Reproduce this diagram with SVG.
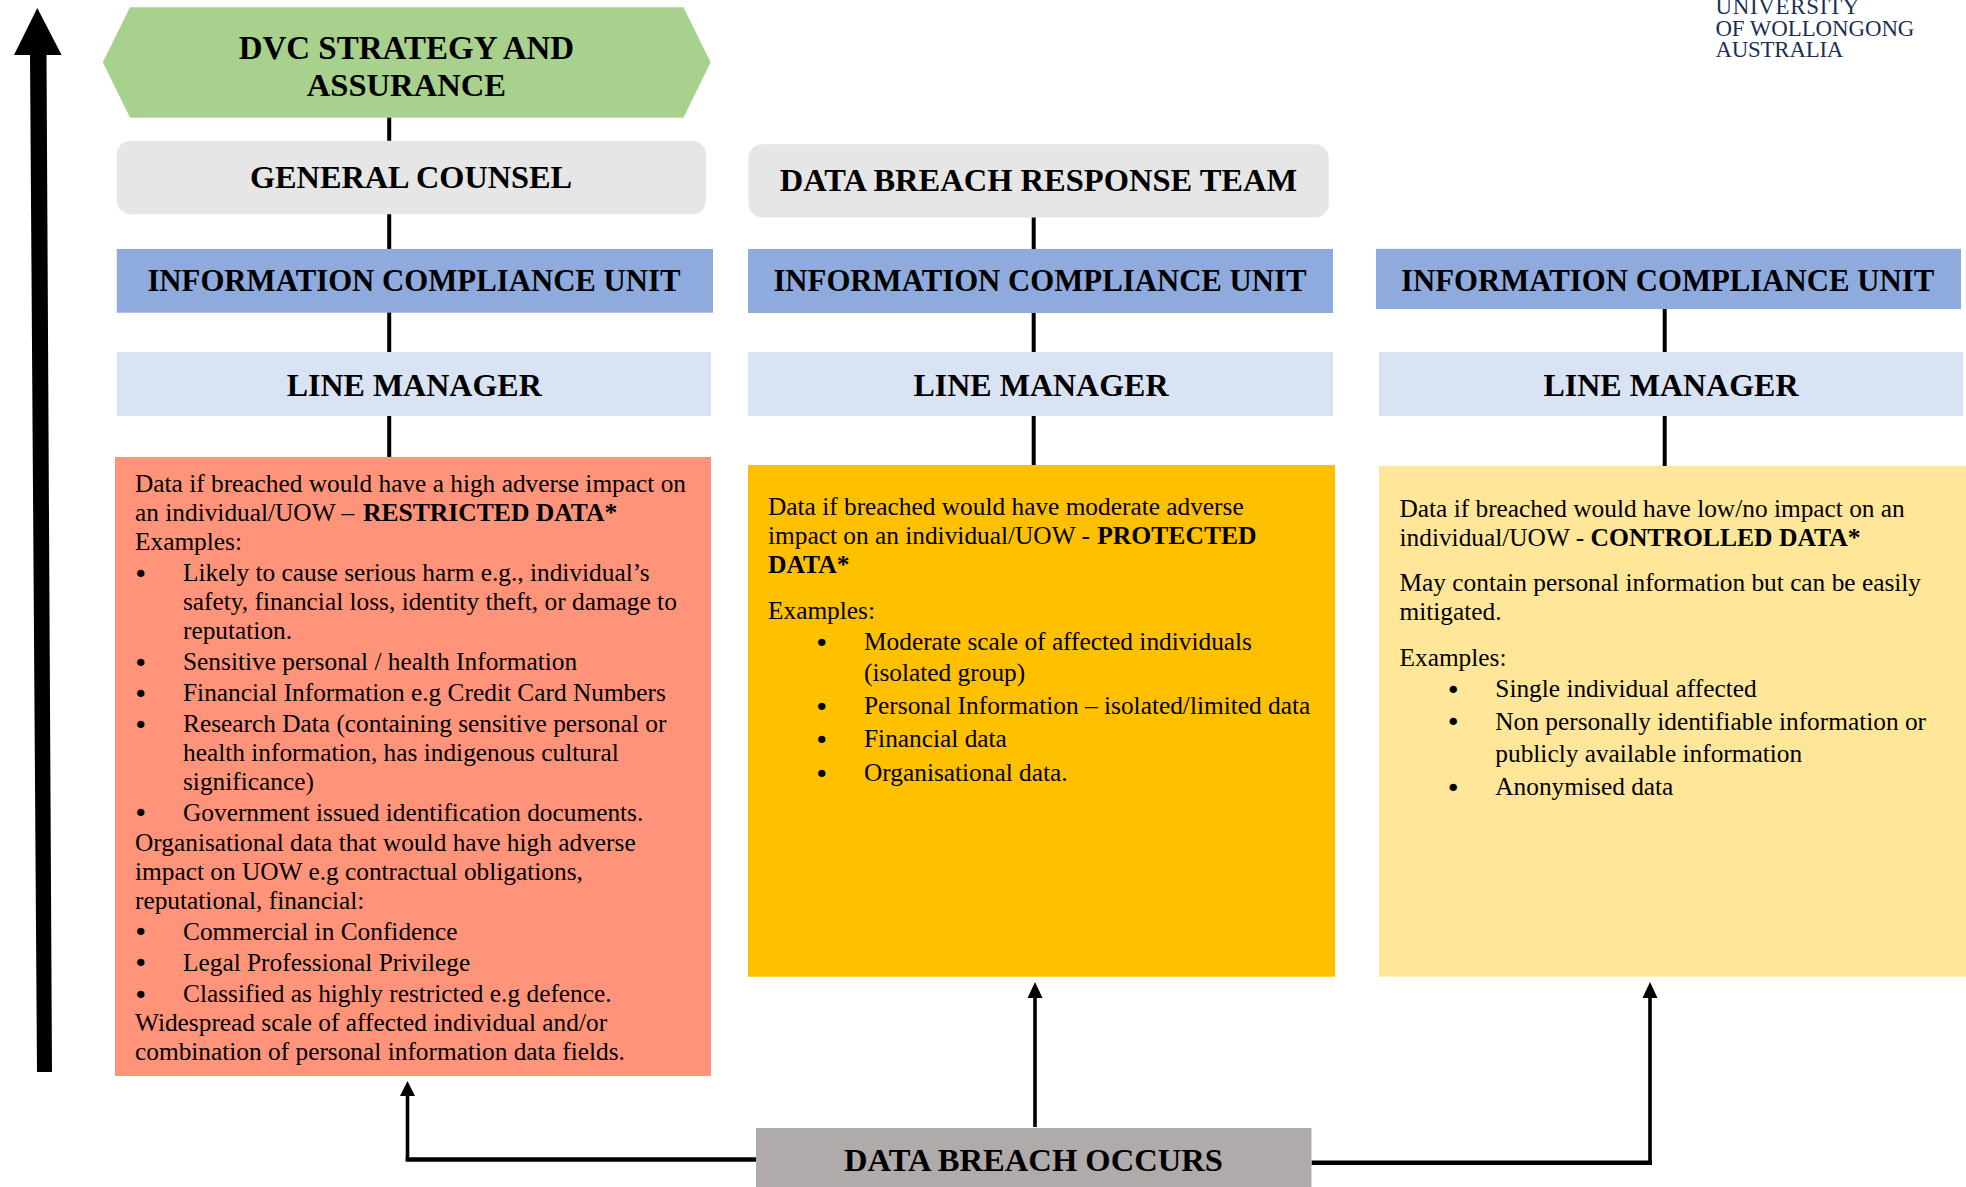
<svg xmlns="http://www.w3.org/2000/svg" width="1966" height="1187" viewBox="0 0 1966 1187">
<style>
text{font-family:"Liberation Serif","Times New Roman",serif;fill:#000}
.h{font-weight:700;font-size:32px}
.b{font-size:25.35px}
text.d{font-family:"DejaVu Sans",sans-serif;font-size:25.3px}
.bb{font-weight:700;font-size:25.6px}
.logo{font-size:22.9px;fill:#1b2f55}
.wire{fill:none;stroke:#000;stroke-width:4}
.thick{fill:none;stroke:#000;stroke-width:4.4}
.thin{fill:none;stroke:#000;stroke-width:3.6}
</style>
<rect width="1966" height="1187" fill="#fff"/>
<g id="connectors">
<path d="M389.2 117V141M389.2 214V249M389.2 312V352M389.2 416V457" class="wire"/>
<path d="M1033.7 217V249M1033.7 313V352M1033.7 416V465" class="wire"/>
<path d="M1664.7 309V352M1664.7 416V466" class="wire"/>
<path d="M407.5 1161V1095" class="thin"/>
<path d="M756 1159.5H405.7" class="thick"/>
<path d="M400 1096L407.5 1081L415 1096Z" fill="#000"/>
<path d="M1035 1127V998" class="thin"/>
<path d="M1027.5 998L1035 982L1042.5 998Z" fill="#000"/>
<path d="M1311.5 1162.8H1651.8" class="thick"/>
<path d="M1650 1165V998" class="thin"/>
<path d="M1642.5 998L1650 982L1657.5 998Z" fill="#000"/>
<path id="escalation" d="M14 55L37.3 8L61.6 55H46.5L52 1072H37L30 55Z" fill="#000"/>
</g>
<g id="dvc"><path d="M130 7.3H683.5L710.6 62.3L683.5 117.7H130L102.8 62.3Z" fill="#A9D18E"/>
<text class="h" style="font-size:33px" x="406.4" y="58.7" text-anchor="middle">DVC STRATEGY AND</text><text class="h" style="font-size:32.6px" x="406.4" y="95.7" text-anchor="middle">ASSURANCE</text></g>
<g id="general-counsel"><rect x="116.8" y="140.7" width="589.2" height="73.6" rx="14" fill="#E6E6E6"/><text class="h" style="font-size:32.3px" x="411" y="188" text-anchor="middle">GENERAL COUNSEL</text></g>
<g id="response-team"><rect x="748.4" y="144.3" width="580.4" height="73.2" rx="14" fill="#E6E6E6"/><text class="h" style="font-size:32.5px" x="1038.5" y="190.7" text-anchor="middle">DATA BREACH RESPONSE TEAM</text></g>
<g id="icu-1"><rect x="116.8" y="249" width="596.2" height="63.7" fill="#8FAADC"/><text class="h" style="font-size:30.8px" x="414" y="291" text-anchor="middle">INFORMATION COMPLIANCE UNIT</text></g>
<g id="icu-2"><rect x="748" y="249" width="585" height="64" fill="#8FAADC"/><text class="h" style="font-size:30.8px" x="1040" y="291" text-anchor="middle">INFORMATION COMPLIANCE UNIT</text></g>
<g id="icu-3"><rect x="1376" y="248.8" width="585" height="60.2" fill="#8FAADC"/><text class="h" style="font-size:30.8px" x="1667.7" y="291" text-anchor="middle">INFORMATION COMPLIANCE UNIT</text></g>
<g id="lm-1"><rect x="116.8" y="352" width="594.2" height="64" fill="#DAE3F3"/><text class="h" x="414.2" y="396" text-anchor="middle">LINE MANAGER</text></g>
<g id="lm-2"><rect x="748" y="352" width="585" height="64" fill="#DAE3F3"/><text class="h" x="1041" y="396" text-anchor="middle">LINE MANAGER</text></g>
<g id="lm-3"><rect x="1379" y="352" width="584" height="64" fill="#DAE3F3"/><text class="h" x="1671" y="396" text-anchor="middle">LINE MANAGER</text></g>
<g id="restricted"><rect x="115" y="457" width="596" height="619" fill="#FF947B"/>
<text class="b" x="135" y="492">Data if breached would have a high adverse impact on</text>
<text class="b" x="135" y="521">an individual/UOW – <tspan class="bb" dx="2.5">RESTRICTED DATA*</tspan></text>
<text class="b" x="135" y="550">Examples:</text>
<text class="d" x="133.3" y="582.9">•</text><text class="b" x="183" y="581.4">Likely to cause serious harm e.g., individual’s</text>
<text class="b" x="183" y="610">safety, financial loss, identity theft, or damage to</text>
<text class="b" x="183" y="639">reputation.</text>
<text class="d" x="133.3" y="671.9">•</text><text class="b" x="183" y="670.4">Sensitive personal / health Information</text>
<text class="d" x="133.3" y="702.5">•</text><text class="b" x="183" y="701">Financial Information e.g Credit Card Numbers</text>
<text class="d" x="133.3" y="733.9">•</text><text class="b" x="183" y="732.4">Research Data (containing sensitive personal or</text>
<text class="b" x="183" y="761.4">health information, has indigenous cultural</text>
<text class="b" x="183" y="790.4">significance)</text>
<text class="d" x="133.3" y="822.1">•</text><text class="b" x="183" y="820.6">Government issued identification documents.</text>
<text class="b" x="135" y="851">Organisational data that would have high adverse</text>
<text class="b" x="135" y="880">impact on UOW e.g contractual obligations,</text>
<text class="b" x="135" y="909">reputational, financial:</text>
<text class="d" x="133.3" y="941.3">•</text><text class="b" x="183" y="939.8">Commercial in Confidence</text>
<text class="d" x="133.3" y="972.3">•</text><text class="b" x="183" y="970.8">Legal Professional Privilege</text>
<text class="d" x="133.3" y="1003.5">•</text><text class="b" x="183" y="1002">Classified as highly restricted e.g defence.</text>
<text class="b" x="135" y="1030.8">Widespread scale of affected individual and/or</text>
<text class="b" x="135" y="1059.8">combination of personal information data fields.</text>
</g>
<g id="protected"><rect x="748" y="465" width="587" height="511.7" fill="#FFC000"/>
<text class="b" x="768" y="514.8">Data if breached would have moderate adverse</text>
<text class="b" x="768" y="543.8">impact on an individual/UOW - <tspan class="bb" dx="1">PROTECTED</tspan></text>
<text class="b bb" x="768" y="572.9">DATA*</text>
<text class="b" x="768" y="618.8">Examples:</text>
<text class="d" x="814.3" y="651.5">•</text><text class="b" x="864" y="650">Moderate scale of affected individuals</text>
<text class="b" x="864" y="681.3">(isolated group)</text>
<text class="d" x="814.3" y="715.5">•</text><text class="b" x="864" y="714">Personal Information – isolated/limited data</text>
<text class="d" x="814.3" y="748.5">•</text><text class="b" x="864" y="747">Financial data</text>
<text class="d" x="814.3" y="782.5">•</text><text class="b" x="864" y="781">Organisational data.</text>
</g>
<g id="controlled"><rect x="1379" y="466" width="587" height="510.7" fill="#FFE699"/>
<text class="b" x="1399.5" y="517">Data if breached would have low/no impact on an</text>
<text class="b" x="1399.5" y="546">individual/UOW - <tspan class="bb">CONTROLLED DATA*</tspan></text>
<text class="b" x="1399.5" y="591">May contain personal information but can be easily</text>
<text class="b" x="1399.5" y="620">mitigated.</text>
<text class="b" x="1399.5" y="665.5">Examples:</text>
<text class="d" x="1445.7" y="698.5">•</text><text class="b" x="1495.3" y="697">Single individual affected</text>
<text class="d" x="1445.7" y="731.2">•</text><text class="b" x="1495.3" y="729.7">Non personally identifiable information or</text>
<text class="b" x="1495.3" y="761.5">publicly available information</text>
<text class="d" x="1445.7" y="796.5">•</text><text class="b" x="1495.3" y="795">Anonymised data</text>
</g>
<g id="breach"><rect x="756" y="1128" width="555.5" height="59" fill="#AFABAB"/><text class="h" style="font-size:32.6px" x="1033.5" y="1171.3" text-anchor="middle">DATA BREACH OCCURS</text></g>
<g id="logo"><text class="logo" x="1715.4" y="14.3" textLength="144">UNIVERSITY</text><text class="logo" x="1715.4" y="36" textLength="199">OF WOLLONGONG</text><text class="logo" x="1715.4" y="57" textLength="128">AUSTRALIA</text></g>
</svg>
